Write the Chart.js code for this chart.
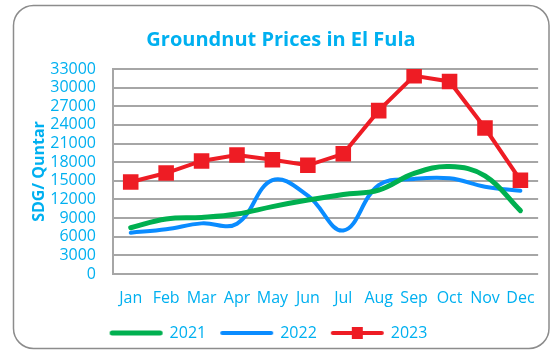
<!DOCTYPE html>
<html>
<head>
<meta charset="utf-8">
<title>Groundnut Prices in El Fula</title>
<script src="https://cdn.jsdelivr.net/npm/chart.js@4/dist/chart.umd.min.js"></script>
<style>
  html, body { margin: 0; padding: 0; background: #fff; }
</style>
</head>
<body>
<canvas id="chartPrecios" width="550" height="351"></canvas>
<script>
// Datos: precio del maní (SDG por quintal) en El Fula
const meses = ["Jan", "Feb", "Mar", "Apr", "May", "Jun", "Jul", "Aug", "Sep", "Oct", "Nov", "Dec"];
const precios2021 = [7450, 8850, 9100, 9650, 10850, 11900, 12800, 13500, 16200, 17300, 15800, 10200];
const precios2022 = [6650, 7200, 8150, 8100, 15100, 12600, 7000, 14300, 15300, 15400, 14050, 13400];
const precios2023 = [14800, 16250, 18200, 19150, 18400, 17500, 19350, 26300, 31900, 31000, 23500, 15100];
const ticksY = { min: 0, max: 33000, paso: 3000 };

const azul = "#00B0F0";
const gris = "#a6a6a6";
const fuente = "'Open Sans', sans-serif";

// muestra de linea para la leyenda (con cuadro para 2023)
function muestraLinea(color, grosor, conCuadro) {
    const c = document.createElement("canvas");
    c.width = 55;
    c.height = 16;
    const g = c.getContext("2d");
    g.strokeStyle = color;
    g.lineWidth = grosor;
    g.lineCap = "round";
    g.beginPath();
    g.moveTo(grosor / 2 + 1, 8);
    g.lineTo(55 - grosor / 2 - 1, 8);
    g.stroke();
    if (conCuadro) {
        g.fillStyle = color;
        g.fillRect(22, 2, 11, 12);
    }
    return c;
}

// marco redondeado alrededor de la grafica
const marco = {
    id: "marco",
    beforeDraw(chart) {
        const ctx = chart.ctx;
        ctx.save();
        ctx.strokeStyle = "#8c8c8c";
        ctx.lineWidth = 1.5;
        ctx.beginPath();
        ctx.roundRect(13.5, 5.5, 535.5, 343, 20);
        ctx.stroke();
        ctx.restore();
    }
};

// acomodo fino del titulo y la leyenda
const ajusteCajas = {
    id: "ajusteCajas",
    afterLayout(chart) {
        chart.titleBlock.left += 3.5;
        chart.titleBlock.right += 3.5;
        chart.legend.left -= 8.5;
        chart.legend.right -= 8.5;
    }
};

const colores = ["#00B050", "#0a8cff", "#EE1C24"];
const muestras = [
    muestraLinea(colores[0], 5, false),
    muestraLinea(colores[1], 4, false),
    muestraLinea(colores[2], 4, true)
];

const ctx = document.getElementById("chartPrecios").getContext("2d");
const grafica = new Chart(ctx, {
    type: "line",
    data: {
        labels: meses,
        datasets: [
            {
                label: "2021",
                data: precios2021,
                borderColor: colores[0],
                backgroundColor: colores[0],
                borderWidth: 5,
                borderCapStyle: "round",
                pointRadius: 0,
                tension: 0.4,
                order: 1,
            },
            {
                label: "2022",
                data: precios2022,
                borderColor: colores[1],
                backgroundColor: colores[1],
                borderWidth: 4,
                borderCapStyle: "round",
                pointRadius: 0,
                tension: 0.4,
                order: 2,
            },
            {
                label: "2023",
                data: precios2023,
                borderColor: colores[2],
                backgroundColor: colores[2],
                borderWidth: 4,
                pointStyle: "rect",
                pointRadius: 11,
                pointBorderWidth: 0,
                pointBackgroundColor: colores[2],
                tension: 0,
                order: 0,
            },
        ],
    },
    options: {
        responsive: false,
        animation: false,
        layout: { padding: { left: 13, right: 8, top: 0, bottom: 0 } },
        plugins: {
            title: {
                display: true,
                text: "Groundnut Prices in El Fula",
                color: azul,
                font: { family: fuente, size: 20, weight: "bold" },
                padding: { top: 28, bottom: 17 },
            },
            legend: {
                position: "bottom",
                labels: {
                    color: azul,
                    font: { family: fuente, size: 16 },
                    usePointStyle: true,
                    pointStyleWidth: 51,
                    padding: 15,
                    generateLabels(chart) {
                        return chart.data.datasets.map((ds, i) => ({
                            text: ds.label,
                            pointStyle: muestras[i],
                            fillStyle: ds.borderColor,
                            strokeStyle: ds.borderColor,
                            lineWidth: 0,
                            fontColor: azul,
                            datasetIndex: i,
                        }));
                    },
                },
            },
            tooltip: { enabled: false },
        },
        scales: {
            x: {
                offset: true,
                grid: { display: false, drawTicks: false },
                border: { display: false },
                ticks: {
                    color: azul,
                    font: { family: fuente, size: 16 },
                    padding: 15,
                    maxRotation: 0,
                    autoSkip: false,
                },
                afterFit(escala) { escala.height = 36; },
            },
            y: {
                min: ticksY.min,
                max: ticksY.max,
                ticks: {
                    stepSize: ticksY.paso,
                    autoSkip: false,
                    color: azul,
                    font: { family: fuente, size: 16 },
                    padding: 17,
                    callback: (v) => String(v),
                },
                grid: { color: gris, lineWidth: 2, drawTicks: false },
                border: { color: gris, width: 2 },
                title: {
                    display: true,
                    text: "SDG/ Quntar",
                    color: azul,
                    font: { family: fuente, size: 16, weight: "bold" },
                    padding: { top: 17, bottom: 0 },
                },
                afterFit(escala) { escala.width = 100; },
            },
        },
    },
    plugins: [marco, ajusteCajas],
});
</script>
</body>
</html>
